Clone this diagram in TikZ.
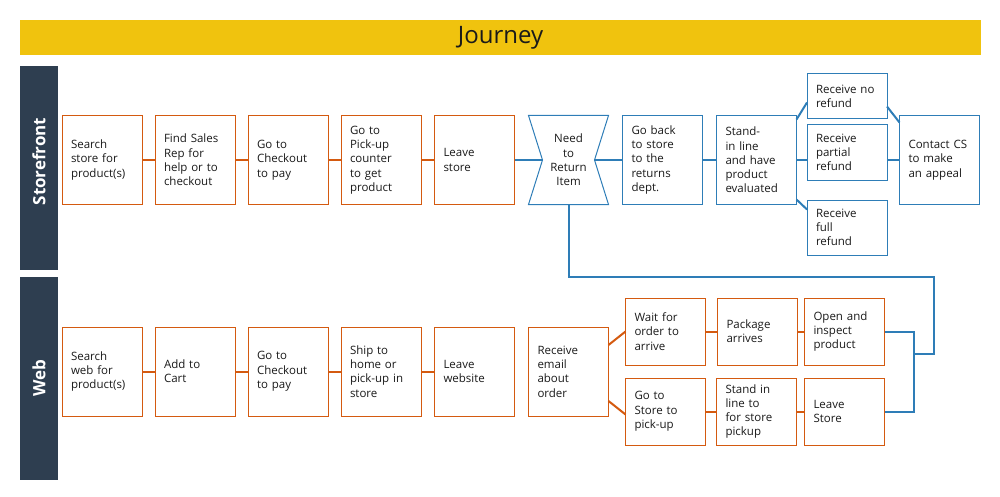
\documentclass[tikz,border=0pt]{standalone}
\usepackage{fontspec}
\setmainfont{Open Sans}
\usepackage{xcolor}
\definecolor{cGold}{HTML}{F0C30E}
\definecolor{cLane}{HTML}{2E3E50}
\definecolor{cStep}{HTML}{D45A10}
\definecolor{cRet}{HTML}{2E7DB7}
\definecolor{cText}{HTML}{1A1A1A}
\usetikzlibrary{positioning,calc}
\newcommand\stepfont{\fontsize{11.5}{14.3}\selectfont}
\tikzset{
  title-bar/.style={fill=cGold,minimum width=961pt,minimum height=35pt,
    inner sep=0pt,font=\fontsize{24}{28}\selectfont,text=cText},
  lane-box/.style={fill=cLane,minimum width=38pt,inner sep=0pt},
  lane-text/.style={text=white,font=\fontsize{17}{20}\selectfont\bfseries,rotate=90},
  step-box/.style={draw=cStep,line width=1pt,minimum width=80pt,minimum height=89pt,
    text width=62pt,inner xsep=9pt,outer sep=0pt,align=left,font=\stepfont,text=cText},
  ret-box/.style={step-box,draw=cRet},
  link/.style={draw=cStep,line width=2pt},
  link-ret/.style={draw=cRet,line width=2pt},
}
\begin{document}
\begin{tikzpicture}[x=1pt,y=-1pt]
  \useasboundingbox (0,0) rectangle (1000,497);
  % title and lanes
  \node[title-bar] (title) at (500.5,38) {Journey};
  \node[lane-box,minimum height=204pt] (lane-sf) at (39,168) {};
  \node[lane-box,minimum height=203pt] (lane-wb) at (39,378.5) {};
  \node[lane-text] at (39,161.5) {Storefront};
  \node[lane-text] at (39,378) {Web};

  % storefront
  \node[step-box] (sf1) at (102,160) {Search\\store for\\product(s)};
  \node[step-box,right=13pt of sf1] (sf2) {Find Sales\\Rep for\\help or to\\checkout};
  \node[step-box,right=13pt of sf2] (sf3) {Go to\\Checkout\\to pay};
  \node[step-box,right=13pt of sf3] (sf4) {Go to\\Pick-up\\counter\\to get\\product};
  \node[step-box,right=13.5pt of sf4] (sf5) {Leave\\store};
  \node[ret-box,draw=none,align=center,right=14pt of sf5] (need) {Need\\to\\Return\\Item};
  \draw[draw=cRet,line width=1pt] (need.north west) -- (need.north east)
    -- ($(need.east)+(-14,0)$) coordinate (need-r) -- (need.south east)
    -- (need.south west) -- ($(need.west)+(14,0)$) coordinate (need-l) -- cycle;
  \node[ret-box,right=14pt of need] (goback) {Go back\\to store\\to the\\returns\\dept.};
  \node[ret-box,right=14pt of goback] (stand) {Stand-\\in line\\and have\\product\\evaluated};
  \node[ret-box,minimum height=45pt] (norefund) at (847,96.5) {Receive no\\refund};
  \node[ret-box,minimum height=55pt] (partial) at (847,152.5) {Receive\\partial\\refund};
  \node[ret-box,minimum height=55pt] (full) at (847,227.5) {Receive\\full\\refund};
  \node[ret-box] (contact) at (939.5,160) {Contact CS\\to make\\an appeal};

  % web
  \node[step-box] (wb1) at (102,371.5) {Search\\web for\\product(s)};
  \node[step-box,right=13pt of wb1] (wb2) {Add to\\Cart};
  \node[step-box,right=13pt of wb2] (wb3) {Go to\\Checkout\\to pay};
  \node[step-box,right=13pt of wb3] (wb4) {Ship to\\home or\\pick-up in\\store};
  \node[step-box,right=13.5pt of wb4] (wb5) {Leave\\website};
  \node[step-box,right=14pt of wb5] (email) {Receive\\email\\about\\order};
  \node[step-box,minimum height=67pt] (wait) at (665.5,331.5) {Wait for\\order to\\arrive};
  \node[step-box,minimum height=67pt] (gostore) at (665.5,411.5) {Go to\\Store to\\pick-up};
  \node[step-box,minimum height=67pt] (package) at (757.5,331.5) {Package\\arrives};
  \node[step-box,minimum height=67pt] (standline) at (756.5,411.5) {Stand in\\line to\\for store\\pickup};
  \node[step-box,minimum height=67pt] (open) at (844.5,331.5) {Open and\\inspect\\product};
  \node[step-box,minimum height=67pt] (leave) at (844.5,411.5) {Leave\\Store};

  % orange links
  \foreach \a/\b in {sf1/sf2,sf2/sf3,sf3/sf4,sf4/sf5,wb1/wb2,wb2/wb3,wb3/wb4,wb4/wb5,
    wait/package,package/open,gostore/standline,standline/leave}
    \draw[link] (\a.east) -- (\b.west);
  \draw[link] ($(email.north east)+(0,18)$) -- (wait.west);
  \draw[link] ($(email.south east)+(0,-15)$) -- ($(gostore.west)+(0,3)$);

  % return links
  \draw[link-ret] (sf5.east) -- (need-l);
  \draw[link-ret] (need-r) -- (goback.west);
  \draw[link-ret] (goback.east) -- (stand.west);
  \draw[link-ret] (stand.east) -- (stand.east -| partial.west);
  \draw[link-ret] (partial.east |- contact.west) -- (contact.west);
  \draw[link-ret] ($(stand.north east)+(0,4)$) -- ($(norefund.west)+(0,6)$);
  \draw[link-ret] ($(norefund.east)+(0,10)$) -- ($(contact.north west)+(0,7)$);
  \draw[link-ret] ($(stand.south east)+(0,-5)$) -- ($(full.west)+(0,-18)$);
  \coordinate (ret-turn) at (934,277);
  \coordinate (ret-join) at (914,354);
  \draw[link-ret] (need.south) |- (ret-turn) |- (ret-join);
  \draw[link-ret] (open.east) -| (ret-join) |- (leave.east);
\end{tikzpicture}
\end{document}
